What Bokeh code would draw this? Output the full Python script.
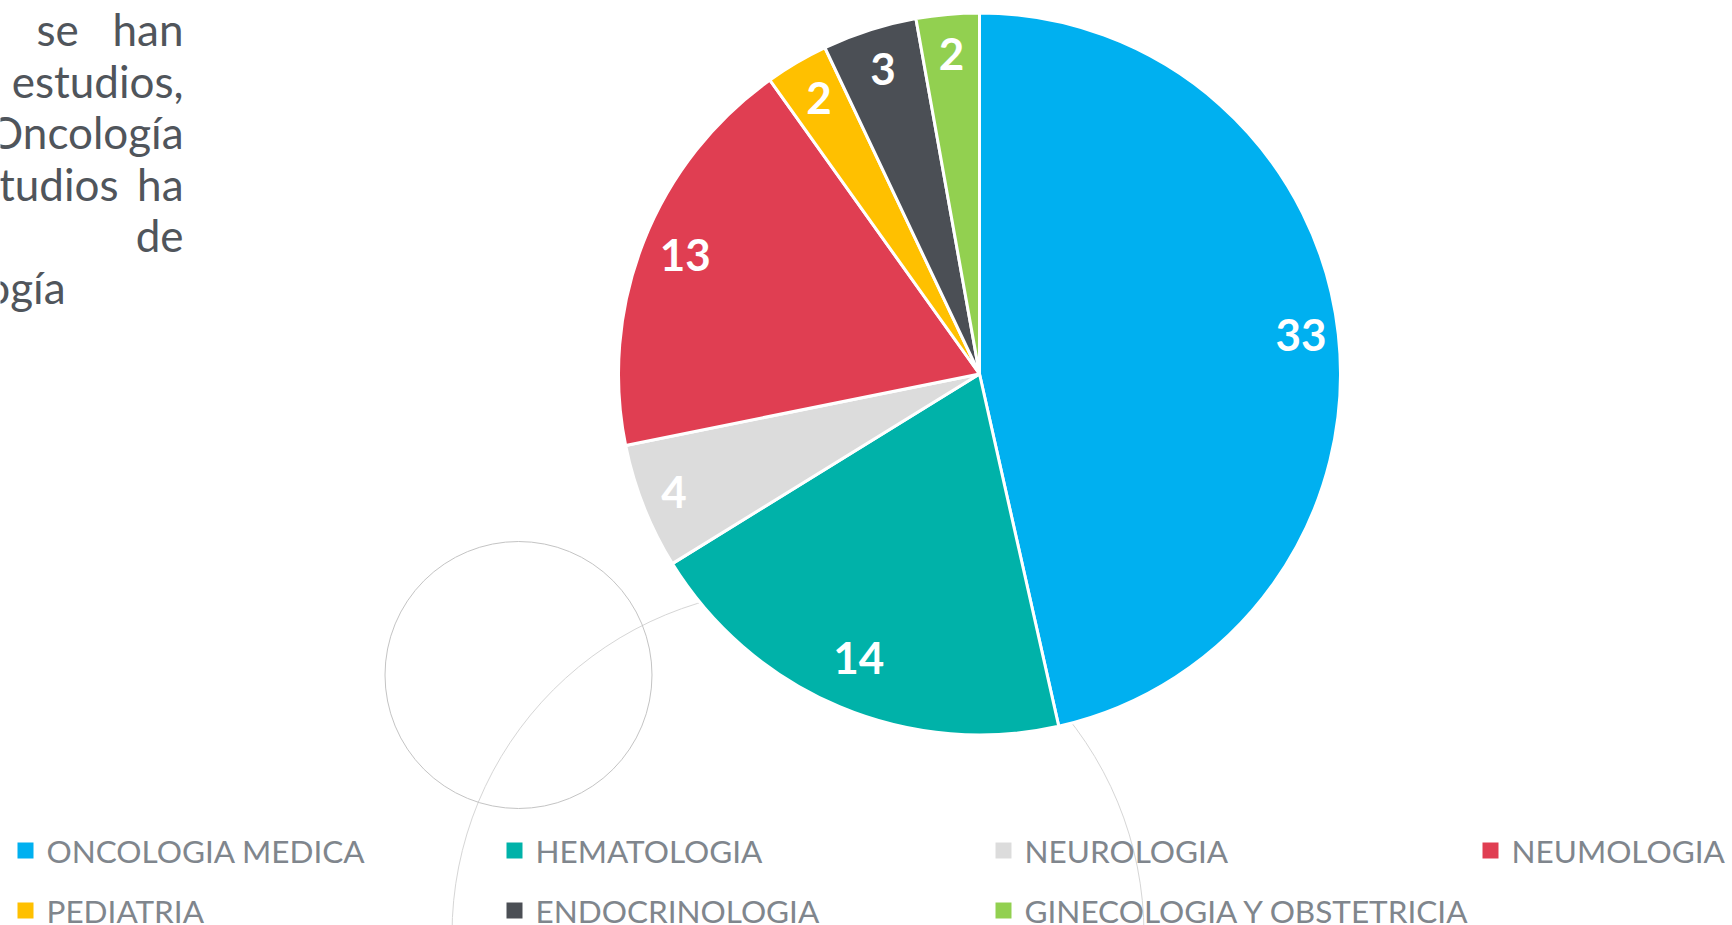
import math
from bokeh.plotting import figure
from bokeh.models import Range1d, ColumnDataSource
from bokeh.core.properties import value
from bokeh.embed import file_html
from bokeh.resources import INLINE

# ---------------- data ----------------
categories = ["ONCOLOGIA MEDICA", "HEMATOLOGIA", "NEUROLOGIA", "NEUMOLOGIA",
              "PEDIATRIA", "ENDOCRINOLOGIA", "GINECOLOGIA Y OBSTETRICIA"]
values = [33, 14, 4, 13, 2, 3, 2]
colors = ["#00B0F0", "#00B2A9", "#DCDCDC", "#E03E52", "#FFC000", "#4B4F55", "#92D050"]

paragraph_lines = [["se", "han"], ["estudios,"], ["Oncología"], ["tudios", "ha"], ["de"], ["ogía"]]

# ---------------- layout (screen pixels) ----------------
W, H = 1732, 925
CX, CY, R = 979, 373.5, 361
FONT = "Lato"

p = figure(width=W, height=H, x_range=Range1d(0, W), y_range=Range1d(-H, 0),
           output_backend="svg", toolbar_location=None, min_border=0,
           x_axis_location=None, y_axis_location=None)
p.grid.visible = False
p.outline_line_color = None
p.background_fill_color = "white"
p.border_fill_color = "white"

# decorative circles (behind everything)
p.circle(x=[797.5], y=[-934], radius=346, fill_color=None, line_color="#d6d6d6", line_width=1)
p.circle(x=[518], y=[-674.5], radius=133.5, fill_color=None, line_color="#c4c4c4", line_width=1)

# ---------------- pie ----------------
total = sum(values)
starts, ends, lx, ly, labels = [], [], [], [], []
cum = 0
for v in values:
    a0 = math.pi / 2 - cum / total * 2 * math.pi
    a1 = math.pi / 2 - (cum + v) / total * 2 * math.pi
    starts.append(a0)
    ends.append(a1)
    mid = (a0 + a1) / 2
    ux, uy = math.cos(mid), math.sin(mid)
    txt = str(v)
    hw = 13 * len(txt)
    hh = 34
    d = R - 8 - abs(ux) * hw - abs(uy) * hh
    lx.append(CX + ux * d)
    ly.append(-CY + uy * d + 3)
    labels.append(txt)
    cum += v

src = ColumnDataSource(dict(start=starts, end=ends, color=colors, cat=categories))
p.wedge(x=CX, y=-CY, radius=R, start_angle="start", end_angle="end", direction="clock",
        fill_color="color", line_color="white", line_width=3, source=src)

p.text(x=lx, y=ly, text=labels, text_font=value(FONT), text_font_style="bold",
       text_font_size="44px", text_color="white", text_align="center", text_baseline="middle")

# ---------------- legend ----------------
col_x = [17, 506, 995, 1482]
row_y = [850, 910]
sq_x, sq_y, tx, ty, tt = [], [], [], [], []
for i, c in enumerate(categories):
    col, row = i % 4, i // 4
    sq_x.append(col_x[col] + 8)
    sq_y.append(-row_y[row])
    tx.append(col_x[col] + 29)
    ty.append(-row_y[row])
    tt.append(c)
p.rect(x=sq_x, y=sq_y, width=16, height=16, fill_color=colors, line_color=None)
p.text(x=tx, y=ty, text=tt, text_font=value(FONT), text_font_size="31.5px",
       text_color="#80868d", text_align="left", text_baseline="middle")

# ---------------- paragraph fragment ----------------
PCOL = "#50555b"
baselines = [28, 80, 131, 183, 234.5, 286.5]
RIGHT = 183
words_x, words_y, words_t, words_a = [], [], [], []
for li, words in enumerate(paragraph_lines):
    y = -baselines[li]
    if li == len(paragraph_lines) - 1:
        words_x.append(65); words_t.append(words[0]); words_a.append("right"); words_y.append(y)
    elif len(words) == 2:
        if li == 0:
            words_x.append(36); words_a.append("left")
        else:
            words_x.append(118); words_a.append("right")
        words_t.append(words[0]); words_y.append(y)
        words_x.append(RIGHT); words_t.append(words[1]); words_a.append("right"); words_y.append(y)
    else:
        words_x.append(RIGHT); words_t.append(words[0]); words_a.append("right"); words_y.append(y)

psrc = ColumnDataSource(dict(x=words_x, y=words_y, t=words_t, a=words_a))
p.text(x="x", y="y", text="t", text_align="a", source=psrc, text_font=value(FONT),
       text_font_size="44px", text_color=PCOL, text_baseline="alphabetic")

open("out.html", "w").write(file_html(p, INLINE))
